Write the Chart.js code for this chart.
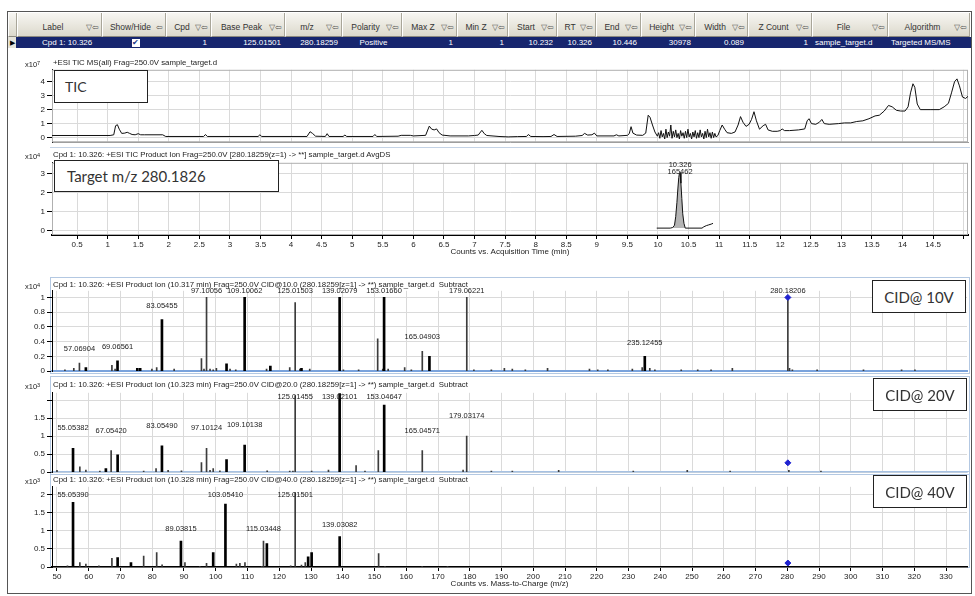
<!DOCTYPE html>
<html>
<head>
<meta charset="utf-8">
<title>Targeted MS/MS - Cpd 1: 10.326</title>
<script src="https://cdn.jsdelivr.net/npm/chart.js@4.4.1/dist/chart.umd.min.js"></script>
<style>
  body { margin: 0; width: 975px; height: 596px; position: relative; overflow: hidden; background: #fff; font-family: "Liberation Sans", Arial, sans-serif; }
  canvas { position: absolute; }
  #outer { position: absolute; left: 7px; top: 11px; width: 965px; height: 583px; border: 1px solid #555; box-sizing: border-box; }
  .hcell { position: absolute; top: 13px; height: 24px; box-sizing: border-box; border-right: 1px solid #a9a699; border-left: 1px solid #fff; border-bottom: 1px solid #8d8a80; background: linear-gradient(#f7f6f2, #dcd9cc); font-size: 8.5px; color: #333; display: flex; align-items: flex-end; padding: 0 2px 4px 2px; }
  .hcell .nm { flex: 1; text-align: center; white-space: nowrap; }
  .hcell .ic { font-size: 8px; color: #555; white-space: nowrap; }
  #row { position: absolute; left: 16px; top: 37px; width: 955px; height: 11px; background: #17266e; }
  #sel { position: absolute; left: 8px; top: 37px; width: 8px; height: 11px; background: #e6e4da; font-size: 7px; line-height: 11px; text-align: center; color: #000; }
  .rcell { position: absolute; top: 37px; height: 11px; line-height: 11px; font-size: 8px; color: #fff; white-space: nowrap; box-sizing: border-box; overflow: hidden; }
  .chk { display: inline-block; width: 8px; height: 8px; background: #fff; color: #1a3a8a; font-size: 8px; line-height: 8px; text-align: center; vertical-align: middle; }
  .ttl { position: absolute; left: 53px; font-size: 7.8px; color: #222; white-space: nowrap; line-height: 8px; }
  .exp { position: absolute; left: 25px; font-size: 7.5px; color: #222; line-height: 8px; white-space: nowrap; }
  .exp sup { font-size: 5.5px; vertical-align: 2px; }
  .box { position: absolute; background: #fff; border: 1.5px solid #222; box-sizing: border-box; font-family: Lato, "Open Sans", sans-serif; color: #333; display: flex; align-items: center; white-space: nowrap; }
  .pframe { position: absolute; border: 1px solid #b3c8e2; box-sizing: border-box; }
  .hline { position: absolute; height: 1px; background: #c4d3e6; }
</style>
</head>
<body>
<div id="outer"></div>
<div id="table"></div>

<div class="hline" style="left:50px; top:147px; width:920px;"></div>
<div class="pframe" style="left:50px; top:277px; width:920px; height:97px;"></div>
<div class="pframe" style="left:50px; top:376px; width:920px; height:99px;"></div>
<div class="pframe" style="left:50px; top:471px; width:920px; height:97px;"></div>

<canvas id="tic" width="960" height="86" style="left:12px; top:63px;"></canvas>
<canvas id="eic" width="960" height="101" style="left:12px; top:156px;"></canvas>
<canvas id="cid10" width="960" height="94" style="left:12px; top:284px;"></canvas>
<canvas id="cid20" width="960" height="93" style="left:12px; top:386px;"></canvas>
<canvas id="cid40" width="960" height="109" style="left:12px; top:480px;"></canvas>

<div class="exp" style="top:59px;">x10<sup>7</sup></div>
<div class="ttl" style="top:59px;">+ESI TIC MS(all) Frag=250.0V sample_target.d</div>
<div class="exp" style="top:151px;">x10<sup>4</sup></div>
<div class="ttl" style="top:151px;">Cpd 1: 10.326: +ESI TIC Product Ion Frag=250.0V [280.18259(z=1) -&gt; **] sample_target.d AvgDS</div>
<div class="exp" style="top:281px;">x10<sup>4</sup></div>
<div class="ttl" style="top:281px;">Cpd 1: 10.326: +ESI Product Ion (10.317 min) Frag=250.0V CID@10.0 (280.18259[z=1] -&gt; **) sample_target.d&nbsp; Subtract</div>
<div class="exp" style="top:381px;">x10<sup>3</sup></div>
<div class="ttl" style="top:381px;">Cpd 1: 10.326: +ESI Product Ion (10.323 min) Frag=250.0V CID@20.0 (280.18259[z=1] -&gt; **) sample_target.d&nbsp; Subtract</div>
<div class="exp" style="top:476px;">x10<sup>3</sup></div>
<div class="ttl" style="top:476px;">Cpd 1: 10.326: +ESI Product Ion (10.328 min) Frag=250.0V CID@40.0 (280.18259[z=1] -&gt; **) sample_target.d&nbsp; Subtract</div>

<div class="box" style="left:54px; top:70px; width:94px; height:33px; font-size:14px; padding-left:10px;">TIC</div>
<div class="box" style="left:54px; top:160px; width:225px; height:32px; font-size:15px; padding-left:12px;">Target m/z 280.1826</div>
<div class="box" style="left:872px; top:280px; width:94px; height:33px; font-size:15px; justify-content:center;">CID@ 10V</div>
<div class="box" style="left:873px; top:378px; width:94px; height:33px; font-size:15px; justify-content:center;">CID@ 20V</div>
<div class="box" style="left:873px; top:475px; width:94px; height:33px; font-size:15px; justify-content:center;">CID@ 40V</div>

<script>
// ---- compound table ----
var tableCols = ['Label', 'Show/Hide', 'Cpd', 'Base Peak', 'm/z', 'Polarity', 'Max Z', 'Min Z', 'Start', 'RT', 'End', 'Height', 'Width', 'Z Count', 'File', 'Algorithm'];
var tableRow = ['Cpd 1: 10.326', '', '1', '125.01501', '280.18259', 'Positive', '1', '1', '10.232', '10.326', '10.446', '30978', '0.089', '1', 'sample_target.d', 'Targeted MS/MS'];

// ---- TIC (x10^7 counts) ----
var ticTime = [0.09, 1.04, 1.10, 1.13, 1.16, 1.19, 1.23, 1.28, 1.32, 1.36, 1.40, 1.45, 1.50, 1.54, 1.60, 1.90, 1.95,
  2.57, 2.60, 2.63, 3.46, 3.49, 3.52, 4.26, 4.31, 4.35, 4.40, 4.56, 4.59, 4.62, 4.85, 4.88, 4.91, 5.34, 5.37, 5.40,
  5.75, 5.80, 5.95, 6.00, 6.20, 6.26, 6.30, 6.34, 6.38, 6.42, 6.47, 6.60, 6.90, 7.00, 7.06, 7.12, 7.16, 7.20, 7.40,
  7.55, 7.70, 7.85, 7.88, 7.92, 8.12, 8.25, 8.30, 8.35, 8.65, 8.76, 8.80, 8.85, 8.92, 8.96, 9.00, 9.28, 9.32, 9.36,
  9.50, 9.53, 9.56, 9.59, 9.65, 9.75, 9.80, 9.84, 9.87, 9.91, 9.95, 9.99,
  10.01, 10.03, 10.05, 10.07, 10.09, 10.11, 10.13, 10.15, 10.17, 10.19, 10.21, 10.23, 10.25, 10.27, 10.29, 10.31,
  10.33, 10.35, 10.37, 10.39, 10.41, 10.43, 10.45, 10.47, 10.49, 10.51, 10.53, 10.55, 10.57, 10.59, 10.61, 10.63,
  10.65, 10.67, 10.69, 10.71, 10.73, 10.75, 10.77, 10.79, 10.81, 10.83, 10.85, 10.87, 10.89, 10.91, 10.93, 10.95,
  10.98, 11.01, 11.05, 11.09, 11.13, 11.20, 11.26, 11.31, 11.35, 11.39, 11.44, 11.49, 11.53, 11.57, 11.61, 11.66,
  11.72, 11.76, 11.80, 11.87, 11.95, 12.00, 12.03, 12.07, 12.15, 12.30, 12.40, 12.44, 12.47, 12.51, 12.58, 12.64,
  12.68, 12.72, 12.80, 12.95, 13.05, 13.15, 13.25, 13.35, 13.45, 13.55, 13.62, 13.70, 13.77, 13.83, 13.90, 13.97,
  14.04, 14.09, 14.13, 14.17, 14.20, 14.24, 14.29, 14.45, 14.60, 14.68, 14.75, 14.80, 14.85, 14.89, 14.93, 14.98,
  15.03, 15.07];
var ticCounts = [0.15, 0.15, 0.2, 0.85, 0.92, 0.6, 0.3, 0.32, 0.38, 0.3, 0.22, 0.2, 0.28, 0.2, 0.2, 0.2, 0.08,
  0.08, 0.22, 0.08, 0.08, 0.2, 0.08, 0.08, 0.42, 0.3, 0.1, 0.08, 0.28, 0.08, 0.08, 0.18, 0.08, 0.08, 0.22, 0.08,
  0.1, 0.16, 0.16, 0.12, 0.16, 0.82, 0.6, 0.55, 0.62, 0.35, 0.18, 0.12, 0.12, 0.15, 0.18, 0.52, 0.28, 0.15, 0.08,
  0.05, 0.07, 0.08, 0.22, 0.08, 0.07, 0.08, 0.22, 0.08, 0.1, 0.15, 0.3, 0.18, 0.2, 0.32, 0.12, 0.12, 0.2, 0.12,
  0.16, 0.28, 0.78, 0.32, 0.18, 0.16, 0.32, 1.6, 1.45, 0.9, 0.4, 0.1,
  0.35, -0.05, 0.5, 0.05, 0.3, -0.1, 0.6, 0.0, 0.4, 0.1, 0.9, -0.05, 0.45, 0.05, 0.55, 0.0,
  0.3, -0.1, 0.5, 0.1, 0.35, -0.05, 0.45, 0.0, 0.6, 0.05, 0.3, -0.1, 0.4, 0.05, 0.5, -0.05,
  0.35, 0.0, 0.55, 0.05, 0.3, -0.1, 0.45, 0.0, 0.6, 0.05, 0.35, -0.05, 0.4, 0.0, 0.3, 0.05,
  0.15, 0.5, 0.9, 0.6, 0.35, 0.3, 0.4, 0.9, 1.5, 1.1, 0.8, 0.95, 1.3, 1.85, 1.2, 0.6,
  0.85, 0.95, 0.55, 0.45, 0.45, 0.5, 0.62, 0.5, 0.5, 0.55, 0.62, 1.2, 1.35, 1.0, 0.95, 1.1,
  1.3, 1.0, 0.95, 1.0, 1.05, 1.05, 1.15, 1.2, 1.35, 1.55, 1.6, 1.9, 2.3, 2.2, 1.95, 1.9,
  1.9, 2.2, 3.2, 3.85, 3.6, 2.4, 2.0, 2.0, 2.0, 2.2, 2.45, 3.2, 4.0, 4.2, 3.7, 2.9,
  2.8, 2.95];

// ---- target m/z 280.1826 chromatogram (x10^4 counts) ----
var eicTime = [9.98, 10.20, 10.24, 10.27, 10.29, 10.31, 10.325, 10.34, 10.35, 10.362, 10.375, 10.39, 10.405, 10.425, 10.446, 10.72, 10.75, 10.79, 10.83, 10.87, 10.90];
var eicCounts = [0.15, 0.15, 0.18, 0.3, 0.75, 1.5, 2.2, 2.8, 3.0, 3.05, 2.5, 1.7, 0.9, 0.4, 0.15, 0.15, 0.22, 0.28, 0.32, 0.36, 0.4];
var eicStart = 10.232, eicEnd = 10.446, eicBase = 0.15;
var eicPeakLabel = ['10.326', '165462'];

// ---- product ion spectra [m/z, counts] ----
var cid10Thick = [[59.1, 0.05], [69.06561, 0.14], [75.3, 0.04], [76.2, 0.04], [83.05455, 0.70], [103.4, 0.10], [109.10062, 1.0],
  [117.2, 0.07], [127.0, 0.04], [139.02079, 1.0], [153.0166, 1.0], [167.3, 0.20], [235.12455, 0.20]];
var cid10Thin = [[52.5, 0.02], [55.3, 0.04], [57.06904, 0.11], [67.3, 0.08], [68.3, 0.03], [79.9, 0.03], [81.4, 0.05], [86.9, 0.03],
  [95.5, 0.17], [96.3, 0.03], [97.10056, 1.0], [98.2, 0.03], [99.2, 0.02], [100.2, 0.04], [104.5, 0.03], [106.3, 0.02], [116.0, 0.03],
  [123.3, 0.05], [125.01503, 0.93], [126.5, 0.03], [129.6, 0.03], [140.2, 0.02], [145.0, 0.02], [151.0, 0.44], [152.6, 0.03],
  [154.3, 0.03], [159.5, 0.05], [161.6, 0.02], [165.04903, 0.27], [179.06221, 1.0], [181.3, 0.02], [186.8, 0.02], [190.9, 0.04],
  [193.4, 0.03], [197.5, 0.02], [204.5, 0.04], [217.7, 0.03], [220.3, 0.02], [223.5, 0.02], [231.2, 0.03], [234.3, 0.05],
  [236.7, 0.04], [238.3, 0.02], [246.6, 0.02], [251.8, 0.02], [256.0, 0.02], [262.7, 0.04], [280.18206, 1.0], [280.7, 0.04],
  [281.6, 0.02], [289.4, 0.02], [304.0, 0.02], [316.0, 0.02], [320.2, 0.02]];
var cid10Labels = [57.06904, 69.06561, 83.05455, 97.10056, 109.10062, 125.01503, 139.02079, 153.0166, 165.04903, 179.06221, 235.12455, 280.18206];
var cid10Precursor = [[280.18206, 1.0]];

var cid20Thick = [[55.05382, 0.66], [65.4, 0.10], [69.1, 0.48], [83.0549, 0.73], [103.4, 0.35], [109.10138, 0.75], [139.02101, 2.18], [153.04647, 1.86]];
var cid20Thin = [[50.0, 0.05], [57.2, 0.15], [59.1, 0.06], [63.5, 0.03], [67.0542, 0.60], [77.3, 0.03], [81.2, 0.10], [85.0, 0.05],
  [89.2, 0.04], [95.5, 0.27], [97.10124, 0.66], [98.2, 0.05], [99.2, 0.10], [101.3, 0.04], [116.2, 0.04], [123.3, 0.03], [124.3, 0.03],
  [125.01455, 2.12], [130.2, 0.03], [135.5, 0.06], [144.2, 0.18], [147.0, 0.03], [151.2, 0.60], [165.04571, 0.60], [177.9, 0.06],
  [179.03174, 1.0], [186.8, 0.03], [193.4, 0.03], [208.0, 0.05], [231.5, 0.03], [248.5, 0.05], [262.0, 0.03], [280.5, 0.05], [290.6, 0.03]];
var cid20Labels = [55.05382, 67.0542, 83.0549, 97.10124, 109.10138, 125.01455, 139.02101, 153.04647, 165.04571, 179.03174];
var cid20Precursor = [[280.18259, 0.26]];

var cid40Thick = [[55.0539, 1.79], [69.1, 0.26], [73.3, 0.12], [89.03815, 0.72], [99.2, 0.40], [103.0541, 1.74], [116.1, 0.65],
  [129.1, 0.28], [130.2, 0.40], [139.03082, 0.84]];
var cid40Thin = [[53.3, 0.03], [57.2, 0.12], [59.1, 0.08], [63.2, 0.03], [67.3, 0.24], [77.3, 0.30], [81.4, 0.40], [83.1, 0.06],
  [90.3, 0.12], [95.0, 0.02], [97.1, 0.10], [106.5, 0.08], [107.6, 0.10], [109.2, 0.12], [114.5, 0.02], [115.03448, 0.72], [123.6, 0.03],
  [125.01501, 2.06], [127.0, 0.05], [128.2, 0.12], [151.3, 0.37], [153.3, 0.02], [165.0, 0.02], [173.0, 0.02]];
var cid40Labels = [55.0539, 89.03815, 103.0541, 115.03448, 125.01501, 139.03082];
var cid40Precursor = [[280.18259, 0.11]];

// ---- build the table header and selected row ----
var colEdges = [17, 102, 166, 211, 285, 342, 402, 457, 508, 557, 596, 641, 695, 748, 812, 888, 970];
var colAlign = ['left', 'center', 'right', 'right', 'right', 'center', 'right', 'right', 'right', 'right', 'right', 'right', 'right', 'right', 'left', 'left'];
var tbl = document.getElementById('table');
var html = '<div class="hcell" style="left:8px;width:9px;"></div><div id="sel">&#9654;</div><div id="row"></div>';
tableCols.forEach(function (name, i) {
  var l = colEdges[i], w = colEdges[i + 1] - l;
  var icon = name === 'Show/Hide' ? '&#8678;' : '&#9661;&#8678;';
  html += '<div class="hcell" style="left:' + l + 'px;width:' + w + 'px;"><span class="nm">' + name + '</span><span class="ic">' + icon + '</span></div>';
  var txt = tableRow[i];
  if (name === 'Show/Hide') txt = '<span class="chk">&#10004;</span>';
  var pad = colAlign[i] === 'right' ? 'padding-right:4px;' : (i === 0 ? 'padding-left:25px;' : 'padding-left:3px;');
  html += '<div class="rcell" style="left:' + l + 'px;width:' + w + 'px;text-align:' + colAlign[i] + ';' + pad + '">' + txt + '</div>';
});
tbl.innerHTML = html;

// ---- charts ----
var tickFont = { family: 'Liberation Sans', size: 8 };
var gridColor = '#dadada';

function xy(arr) { return arr.map(function (p) { return { x: p[0], y: p[1] }; }); }
function pairs(xs, ys) { return xs.map(function (x, i) { return { x: x, y: ys[i] }; }); }

var framePlugin = {
  id: 'frame',
  beforeDatasetsDraw: function (chart, args, opts) {
    if (!opts.color) return;
    var a = chart.chartArea, c = chart.ctx;
    c.save();
    c.strokeStyle = opts.color;
    c.lineWidth = 1;
    c.strokeRect(a.left + 0.5, a.top + 0.5, a.right - a.left - 1, a.bottom - a.top - 1);
    c.restore();
  }
};

var labelPlugin = {
  id: 'peakLabels',
  afterDatasetsDraw: function (chart, args, opts) {
    if (!opts.items) return;
    var c = chart.ctx, xs = chart.scales.x, ys = chart.scales.y, top = chart.chartArea.top;
    c.save();
    c.font = '7.5px "Liberation Sans"';
    c.fillStyle = '#222';
    c.textAlign = 'center';
    c.textBaseline = 'middle';
    opts.items.forEach(function (it) {
      var px = xs.getPixelForValue(it.x);
      var py = Math.max(ys.getPixelForValue(it.y) - opts.gap, top + opts.minTop);
      var n = it.lines.length;
      for (var i = 0; i < n; i++) c.fillText(it.lines[i], px, py - (n - 1 - i) * 7);
    });
    c.restore();
  }
};

function yAxis(min, max, step, hideAbove) {
  return {
    min: min, max: max,
    afterFit: function (s) { s.width = 40; },
    ticks: {
      stepSize: step, includeBounds: false, font: tickFont, color: '#222', padding: 2,
      callback: function (v) { return (hideAbove !== undefined && v > hideAbove) ? '' : String(v); }
    },
    grid: { color: gridColor, tickColor: '#000', tickLength: 5 },
    border: { color: '#000', width: 1 }
  };
}

function xAxis(min, max, step, showTicks, hideAbove, title, borderColor, borderWidth) {
  return {
    type: 'linear', min: min, max: max, offset: false,
    afterFit: function (s) { s.height = showTicks ? 22 : 0; },
    ticks: {
      display: showTicks, stepSize: step, includeBounds: false, autoSkip: false, maxRotation: 0,
      font: tickFont, color: '#222', padding: 1,
      callback: function (v) { return v > hideAbove ? '' : String(v); }
    },
    grid: { color: gridColor, drawTicks: showTicks, tickLength: 4, tickColor: '#000', offset: false },
    border: { color: borderColor, width: borderWidth },
    title: { display: !!title, text: title || '', font: tickFont, color: '#222', padding: 0 }
  };
}

function baseOptions(scales, padBottom, frameColor, labels) {
  return {
    responsive: false, animation: false, devicePixelRatio: 1,
    layout: { padding: { left: 0, right: 4, top: 6, bottom: padBottom } },
    scales: scales,
    plugins: {
      legend: { display: false }, tooltip: { enabled: false },
      frame: { color: frameColor },
      peakLabels: labels || {}
    }
  };
}

// TIC
new Chart(document.getElementById('tic'), {
  type: 'line',
  data: { datasets: [{ data: pairs(ticTime, ticCounts), borderColor: '#111', borderWidth: 1, pointRadius: 0, tension: 0 }] },
  options: baseOptions({
    x: xAxis(0.09, 15.07, 0.5, false, 99, '', '#9a9a9a', 1),
    y: yAxis(-0.33, 4.85, 1)
  }, 6, '#b0b0b0'),
  plugins: [framePlugin, labelPlugin]
});

// Target m/z chromatogram
var eicFill = pairs(eicTime, eicCounts).filter(function (p) { return p.x >= eicStart && p.x <= eicEnd; });
new Chart(document.getElementById('eic'), {
  type: 'line',
  data: {
    datasets: [
      { data: pairs(eicTime, eicCounts), borderColor: '#111', borderWidth: 1, pointRadius: 0, tension: 0, fill: false },
      { data: eicFill, borderWidth: 0, pointRadius: 0, tension: 0, backgroundColor: '#b4b4b4', fill: { value: eicBase } }
    ]
  },
  options: baseOptions({
    x: xAxis(0.09, 15.07, 0.5, true, 14.9, 'Counts vs. Acquisition Time (min)', '#000', 2),
    y: yAxis(-0.21, 3.57, 1)
  }, 0, '#b0b0b0', { items: [{ x: 10.362, y: 3.05, lines: eicPeakLabel }], gap: 1, minTop: 0 }),
  plugins: [framePlugin, labelPlugin]
});

// spectra
function spectrum(id, thick, thin, labels, precursor, yMax, yStep, hideAbove, showX, borderColor, borderWidth, gap, minTop) {
  var all = thick.concat(thin);
  var items = labels.map(function (mz) {
    var pk = all.filter(function (p) { return Math.abs(p[0] - mz) < 1e-6; })[0];
    return { x: mz, y: pk ? pk[1] : 0, lines: [mz.toFixed(5)] };
  });
  new Chart(document.getElementById(id), {
    type: 'bar',
    data: {
      datasets: [
        { type: 'line', data: xy(precursor), showLine: false, pointStyle: 'rectRot', pointRadius: 3, pointBackgroundColor: '#1f22d0', pointBorderColor: '#1f22d0', order: 0 },
        { data: xy(thick), backgroundColor: '#000', barThickness: 2, grouped: false, order: 1 },
        { data: xy(thin), backgroundColor: '#3c3c3c', barThickness: 1, grouped: false, order: 2 }
      ]
    },
    options: baseOptions({
      x: xAxis(48.43, 336.6, 10, showX, 999, showX ? 'Counts vs. Mass-to-Charge (m/z)' : '', borderColor, borderWidth),
      y: yAxis(0, yMax, yStep, hideAbove)
    }, showX ? 0 : 6, null, { items: items, gap: gap, minTop: minTop }),
    plugins: [framePlugin, labelPlugin]
  });
}

spectrum('cid10', cid10Thick, cid10Thin, cid10Labels, cid10Precursor, 1.09, 0.2, undefined, false, '#7aa3dc', 2, 14, 0);
spectrum('cid20', cid20Thick, cid20Thin, cid20Labels, cid20Precursor, 2.2, 0.5, 1.6, false, '#a6c1e2', 1.5, 20, 4);
spectrum('cid40', cid40Thick, cid40Thin, cid40Labels, cid40Precursor, 2.22, 0.5, undefined, true, '#000', 1.5, 12, 8);
</script>
</body>
</html>
